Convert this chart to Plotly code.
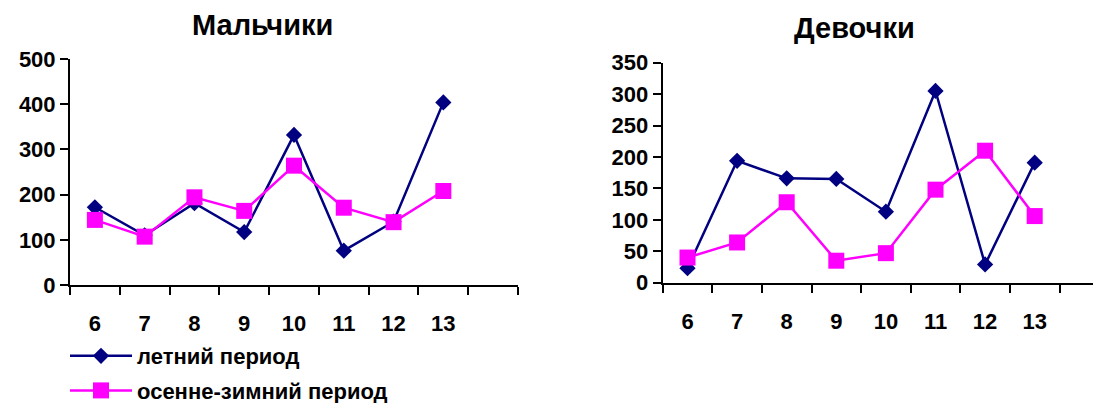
import plotly.graph_objects as go

ages = [6, 7, 8, 9, 10, 11, 12, 13]
boys_summer = [172, 110, 181, 117, 332, 76, 140, 404]
boys_autumn = [144, 107, 194, 164, 264, 171, 139, 208]
girls_summer = [23, 194, 166, 165, 113, 305, 29, 191]
girls_autumn = [40, 64, 128, 35, 47, 148, 210, 106]
titles = ["Мальчики", "Девочки"]
series_names = ["летний период", "осенне-зимний период"]

NAVY = "#000080"
MAGENTA = "#FF00FF"
FONT = "Liberation Sans"
W, H = 1093, 395   # page has an 8px body margin


def px_x(x):
    return (x - 8) / W


def px_y(y):
    return (H - (y - 8)) / H


fig = go.Figure()


def add_pair(summer, autumn, xa, ya, show):
    fig.add_trace(go.Scatter(x=ages, y=summer, mode="lines+markers", name=series_names[0],
                             legendgroup="a",
                             line=dict(color=NAVY, width=2.5),
                             marker=dict(symbol="diamond", size=12.5, color=NAVY),
                             xaxis=xa, yaxis=ya, showlegend=show, cliponaxis=False))
    fig.add_trace(go.Scatter(x=ages, y=autumn, mode="lines+markers", name=series_names[1],
                             legendgroup="b",
                             line=dict(color=MAGENTA, width=2.5),
                             marker=dict(symbol="square", size=16, color=MAGENTA),
                             xaxis=xa, yaxis=ya, showlegend=show, cliponaxis=False))


add_pair(boys_summer, boys_autumn, "x", "y", True)
add_pair(girls_summer, girls_autumn, "x2", "y2", False)


def xaxis(domain, rng, anchor):
    return dict(domain=domain, range=rng, tickvals=ages, ticks="", showgrid=False,
                zeroline=False, showline=True, linecolor="black", linewidth=2,
                anchor=anchor, automargin=False,
                tickfont=dict(family=FONT, size=22, color="black", weight="bold"),
                ticklabelstandoff=18,
                minor=dict(tickvals=[a - 0.5 for a in ages] + [ages[-1] + 0.5, ages[-1] + 1.5],
                           ticks="outside", ticklen=8, tickwidth=2, tickcolor="black"))


def yaxis(domain, rng, dt, anchor):
    return dict(domain=domain, range=rng, dtick=dt, ticks="outside", ticklen=8, tickwidth=2,
                tickcolor="black", showgrid=False, zeroline=False, showline=True,
                linecolor="black", linewidth=2, anchor=anchor, automargin=False,
                tickfont=dict(family=FONT, size=22, color="black", weight="bold"))


fig.update_layout(
    width=W, height=H,
    margin=dict(l=0, r=0, t=0, b=0, autoexpand=False),
    paper_bgcolor="white", plot_bgcolor="white",
    xaxis=xaxis([px_x(70), px_x(518)], [5.5, 14.5], "y"),
    yaxis=yaxis([px_y(285), px_y(59)], [0, 500], 100, "x"),
    xaxis2=xaxis([px_x(662.7), 1.0], [5.5, 5.5 + (1101 - 662.7) / 49.6], "y2"),
    yaxis2=yaxis([px_y(282.7), px_y(62.7)], [0, 350], 50, "x2"),
    legend=dict(x=px_x(65), y=px_y(335), xanchor="left", yanchor="top",
                font=dict(family=FONT, size=22, color="black", weight="bold"),
                itemwidth=62, bgcolor="rgba(0,0,0,0)", tracegroupgap=3),
    annotations=[
        dict(text=titles[0], x=px_x(262.5), y=px_y(25), xref="paper", yref="paper",
             xanchor="center", yanchor="middle", showarrow=False,
             font=dict(family=FONT, size=29, color="black", weight="bold")),
        dict(text=titles[1], x=px_x(854), y=px_y(27.5), xref="paper", yref="paper",
             xanchor="center", yanchor="middle", showarrow=False,
             font=dict(family=FONT, size=29, color="black", weight="bold")),
    ],
)

fig.write_html("out.html")
